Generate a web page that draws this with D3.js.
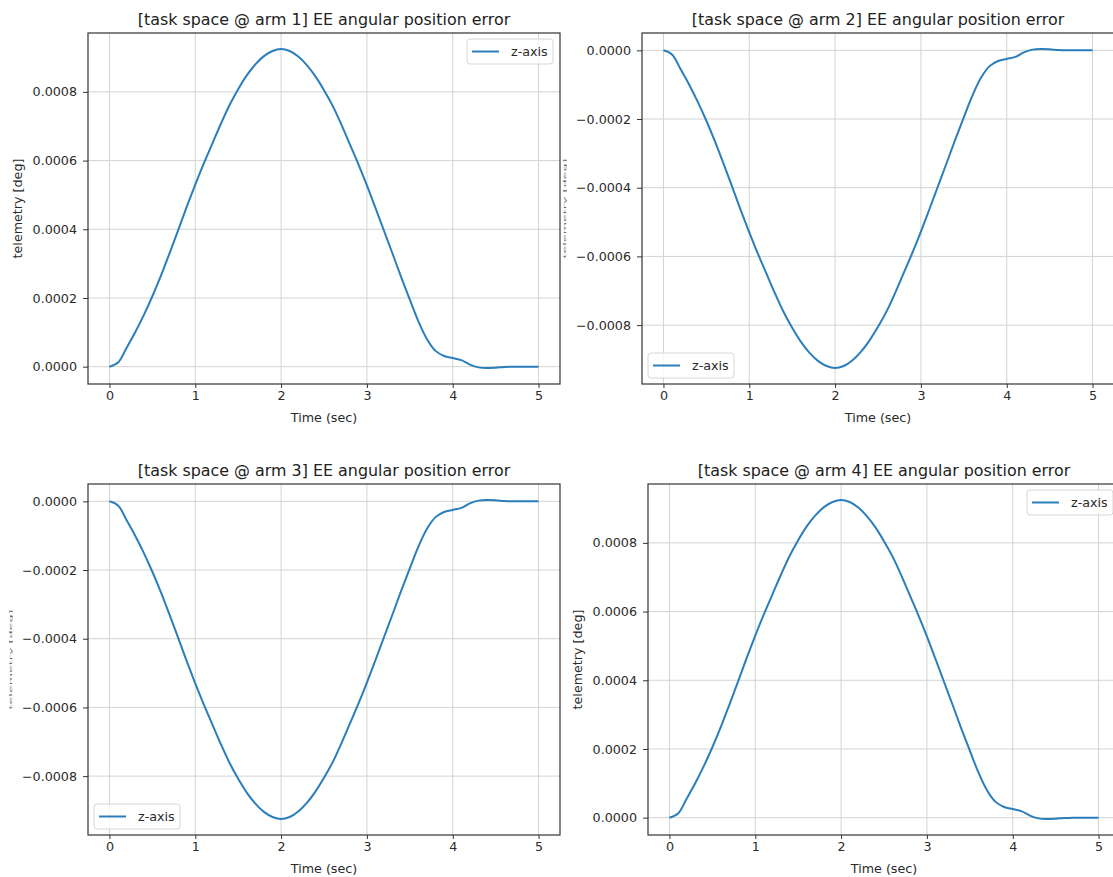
<!DOCTYPE html>
<html>
<head>
<meta charset="utf-8">
<script src="https://cdn.jsdelivr.net/npm/d3@7"></script>
<style>
body { margin: 0; background: #fff; }
svg { display: block; font-family: "DejaVu Sans", sans-serif; }
</style>
</head>
<body>
<svg width="1113" height="877"></svg>
<script>
// Sample data (deg)
var timeSec = [0.0, 0.1, 0.2, 0.3, 0.4, 0.5, 0.6, 0.7, 0.8, 0.9,
    1.0, 1.1, 1.2, 1.3, 1.4, 1.5, 1.6, 1.7, 1.8, 1.9,
    2.0, 2.1, 2.2, 2.3, 2.4, 2.5, 2.6, 2.7, 2.8, 2.9,
    3.0, 3.1, 3.2, 3.3, 3.4, 3.5, 3.6, 3.7, 3.8, 3.9,
    4.0, 4.1, 4.2, 4.3, 4.4, 4.5, 4.6, 4.7, 4.8, 4.9, 5.0];

var arm1Err = [0, 0.12e-4, 0.55e-4, 1.00e-4, 1.50e-4, 2.05e-4, 2.65e-4, 3.30e-4, 3.97e-4, 4.65e-4,
    5.30e-4, 5.92e-4, 6.50e-4, 7.08e-4, 7.62e-4, 8.08e-4, 8.48e-4, 8.80e-4, 9.04e-4, 9.19e-4,
    9.25e-4, 9.19e-4, 9.03e-4, 8.78e-4, 8.45e-4, 8.05e-4, 7.60e-4, 7.06e-4, 6.48e-4, 5.90e-4,
    5.28e-4, 4.62e-4, 3.95e-4, 3.28e-4, 2.60e-4, 1.95e-4, 1.32e-4, 0.80e-4, 0.46e-4, 0.31e-4,
    0.25e-4, 0.19e-4, 0.06e-4, -0.02e-4, -0.04e-4, -0.03e-4, -0.01e-4, 0, 0, 0, 0];

var arm2Err = [0, -0.12e-4, -0.55e-4, -1.00e-4, -1.50e-4, -2.05e-4, -2.65e-4, -3.30e-4, -3.97e-4, -4.65e-4,
    -5.30e-4, -5.92e-4, -6.50e-4, -7.08e-4, -7.62e-4, -8.08e-4, -8.48e-4, -8.80e-4, -9.04e-4, -9.19e-4,
    -9.25e-4, -9.19e-4, -9.03e-4, -8.78e-4, -8.45e-4, -8.05e-4, -7.60e-4, -7.06e-4, -6.48e-4, -5.90e-4,
    -5.28e-4, -4.62e-4, -3.95e-4, -3.28e-4, -2.60e-4, -1.95e-4, -1.32e-4, -0.80e-4, -0.46e-4, -0.31e-4,
    -0.25e-4, -0.19e-4, -0.06e-4, 0.02e-4, 0.04e-4, 0.03e-4, 0.01e-4, 0, 0, 0, 0];

var arm3Err = [0, -0.12e-4, -0.55e-4, -1.00e-4, -1.50e-4, -2.05e-4, -2.65e-4, -3.30e-4, -3.97e-4, -4.65e-4,
    -5.30e-4, -5.92e-4, -6.50e-4, -7.08e-4, -7.62e-4, -8.08e-4, -8.48e-4, -8.80e-4, -9.04e-4, -9.19e-4,
    -9.25e-4, -9.19e-4, -9.03e-4, -8.78e-4, -8.45e-4, -8.05e-4, -7.60e-4, -7.06e-4, -6.48e-4, -5.90e-4,
    -5.28e-4, -4.62e-4, -3.95e-4, -3.28e-4, -2.60e-4, -1.95e-4, -1.32e-4, -0.80e-4, -0.46e-4, -0.31e-4,
    -0.25e-4, -0.19e-4, -0.06e-4, 0.02e-4, 0.04e-4, 0.03e-4, 0.01e-4, 0, 0, 0, 0];

var arm4Err = [0, 0.12e-4, 0.55e-4, 1.00e-4, 1.50e-4, 2.05e-4, 2.65e-4, 3.30e-4, 3.97e-4, 4.65e-4,
    5.30e-4, 5.92e-4, 6.50e-4, 7.08e-4, 7.62e-4, 8.08e-4, 8.48e-4, 8.80e-4, 9.04e-4, 9.19e-4,
    9.25e-4, 9.19e-4, 9.03e-4, 8.78e-4, 8.45e-4, 8.05e-4, 7.60e-4, 7.06e-4, 6.48e-4, 5.90e-4,
    5.28e-4, 4.62e-4, 3.95e-4, 3.28e-4, 2.60e-4, 1.95e-4, 1.32e-4, 0.80e-4, 0.46e-4, 0.31e-4,
    0.25e-4, 0.19e-4, 0.06e-4, -0.02e-4, -0.04e-4, -0.03e-4, -0.01e-4, 0, 0, 0, 0];

var xTicks = [0, 1, 2, 3, 4, 5];
var yTicksUp = [0, 0.0002, 0.0004, 0.0006, 0.0008];
var yTicksDown = [0, -0.0002, -0.0004, -0.0006, -0.0008];
var titles = [
    "[task space @ arm 1] EE angular position error",
    "[task space @ arm 2] EE angular position error",
    "[task space @ arm 3] EE angular position error",
    "[task space @ arm 4] EE angular position error"
];
var seriesName = "z-axis";

var svg = d3.select("svg");
var lineColor = "#2a7ebb";
var fmt = d3.format(".4f");
var small = "12.7px";

var panels = [
    { title: titles[0], values: arm1Err, yTicks: yTicksUp, left: 88, top: 33, legend: "upper right", squashLabel: false },
    { title: titles[1], values: arm2Err, yTicks: yTicksDown, left: 642, top: 33, legend: "lower left", squashLabel: true },
    { title: titles[2], values: arm3Err, yTicks: yTicksDown, left: 88, top: 484, legend: "lower left", squashLabel: true },
    { title: titles[3], values: arm4Err, yTicks: yTicksUp, left: 648, top: 484, legend: "upper right", squashLabel: false }
];
var W = 472, H = 351;

panels.forEach(function(p) {
    var g = svg.append("g").attr("transform", "translate(" + p.left + "," + p.top + ")");

    // matplotlib-like 5% margins
    var ext = d3.extent(p.values);
    var pad = (ext[1] - ext[0]) * 0.05;
    var x = d3.scaleLinear().domain([-0.25, 5.25]).range([0, W]);
    var y = d3.scaleLinear().domain([ext[0] - pad, ext[1] + pad]).range([H, 0]);

    // grid
    g.selectAll(".gx").data(xTicks).enter().append("line")
        .attr("x1", function(d) { return x(d); }).attr("x2", function(d) { return x(d); })
        .attr("y1", 0).attr("y2", H)
        .style("stroke", "#d3d3d3").style("stroke-width", 1);
    g.selectAll(".gy").data(p.yTicks).enter().append("line")
        .attr("y1", function(d) { return y(d); }).attr("y2", function(d) { return y(d); })
        .attr("x1", 0).attr("x2", W)
        .style("stroke", "#d3d3d3").style("stroke-width", 1);

    // data line
    var line = d3.line()
        .x(function(d, i) { return x(timeSec[i]); })
        .y(function(d) { return y(d); })
        .curve(d3.curveCatmullRom.alpha(0.5));
    g.append("path").datum(p.values)
        .attr("d", line)
        .style("fill", "none")
        .style("stroke", lineColor)
        .style("stroke-width", 2);

    // axes
    var xAxis = g.append("g").attr("transform", "translate(0," + H + ")")
        .call(d3.axisBottom(x).tickValues(xTicks).tickSize(4).tickPadding(3).tickFormat(d3.format("d")));
    var yAxis = g.append("g")
        .call(d3.axisLeft(y).tickValues(p.yTicks).tickSize(5).tickPadding(6).tickFormat(fmt));
    [xAxis, yAxis].forEach(function(a) {
        a.select(".domain").remove();
        a.selectAll("line").style("stroke", "#333");
        a.selectAll("text").style("font-size", small).style("fill", "#2a2a2a").style("font-family", "DejaVu Sans");
    });

    // frame
    g.append("rect").attr("width", W).attr("height", H)
        .style("fill", "none").style("stroke", "#333").style("stroke-width", 1.2);

    // title
    g.append("text")
        .attr("x", W / 2).attr("y", -8)
        .attr("text-anchor", "middle")
        .style("font-size", "15.9px").style("fill", "#222")
        .text(p.title);

    // x label
    g.append("text")
        .attr("x", W / 2).attr("y", H + 38)
        .attr("text-anchor", "middle")
        .style("font-size", small).style("fill", "#2a2a2a")
        .text("Time (sec)");

    // y label (squeezed in the two right-hand panels' left neighbours, as in the capture)
    if (p.squashLabel) {
        g.append("text")
            .attr("transform", "translate(-76," + (H / 2) + ") scale(0.25,1) rotate(-90)")
            .attr("text-anchor", "middle")
            .style("font-size", small).style("fill", "#333").style("opacity", 0.8)
            .text("telemetry [deg]");
    } else {
        g.append("text")
            .attr("transform", "translate(-66," + (H / 2) + ") rotate(-90)")
            .attr("text-anchor", "middle")
            .style("font-size", small).style("fill", "#2a2a2a")
            .text("telemetry [deg]");
    }

    // legend
    var lw = 86, lh = 25;
    var lx = p.legend === "upper right" ? W - 7 - lw : 6;
    var ly = p.legend === "upper right" ? 6 : H - 6 - lh;
    var lg = g.append("g").attr("transform", "translate(" + lx + "," + ly + ")");
    lg.append("rect").attr("width", lw).attr("height", lh).attr("rx", 3)
        .style("fill", "#fff").style("fill-opacity", 0.8)
        .style("stroke", "#d6d6d6").style("stroke-width", 1);
    lg.append("line").attr("x1", 5).attr("x2", 32).attr("y1", lh / 2).attr("y2", lh / 2)
        .style("stroke", lineColor).style("stroke-width", 2);
    lg.append("text").attr("x", 44).attr("y", lh / 2 + 4.5)
        .style("font-size", small).style("fill", "#2a2a2a")
        .text(seriesName);
});
</script>
</body>
</html>
